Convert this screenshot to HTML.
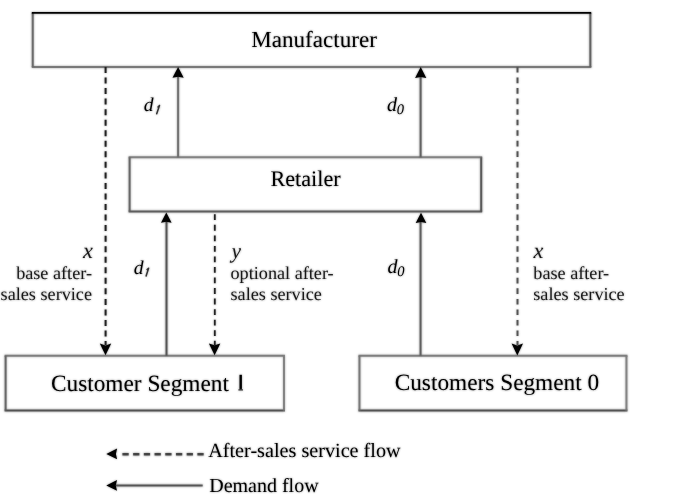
<!DOCTYPE html>
<html><head><meta charset="utf-8">
<style>
html,body{margin:0;padding:0;background:#fff;}
body{width:673px;height:500px;overflow:hidden;}
svg{display:block;}
text{font-family:"Liberation Serif",serif;text-rendering:geometricPrecision;}
.it{font-style:italic;}
</style></head><body>
<svg width="673" height="500" viewBox="0 0 673 500">
<defs><filter id="bl" filterUnits="userSpaceOnUse" x="-10" y="-10" width="693" height="520"><feGaussianBlur stdDeviation="0.8"/></filter></defs>
<rect width="673" height="500" fill="#fff"/>
<g opacity="0.6"><g id="L">
<g fill="none">
<line x1="31.75" y1="67.0" x2="591.35" y2="67.0" stroke="#454545" stroke-width="2.0"/>
<line x1="32.75" y1="12.90" x2="32.75" y2="67.00" stroke="#343434" stroke-width="2.0"/>
<line x1="590.35" y1="12.90" x2="590.35" y2="67.00" stroke="#252525" stroke-width="2.0"/>
<line x1="128.60" y1="157.35" x2="482.20" y2="157.35" stroke="#535353" stroke-width="2.0"/>
<line x1="128.60" y1="211.55" x2="482.20" y2="211.55" stroke="#222222" stroke-width="2.0"/>
<line x1="129.6" y1="157.35" x2="129.6" y2="211.55" stroke="#2d2d2d" stroke-width="2.0"/>
<line x1="481.2" y1="157.35" x2="481.2" y2="211.55" stroke="#1d1d1d" stroke-width="2.0"/>
<line x1="4.60" y1="355.8" x2="284.98" y2="355.8" stroke="#4e4e4e" stroke-width="2.0"/>
<line x1="4.60" y1="410.5" x2="284.98" y2="410.5" stroke="#0f0f0f" stroke-width="2.0"/>
<line x1="5.6" y1="355.80" x2="5.6" y2="410.50" stroke="#2d2d2d" stroke-width="2.0"/>
<line x1="283.98" y1="355.80" x2="283.98" y2="410.50" stroke="#555555" stroke-width="2.0"/>
<line x1="358.45" y1="355.8" x2="627.45" y2="355.8" stroke="#4e4e4e" stroke-width="2.0"/>
<line x1="358.45" y1="410.5" x2="627.45" y2="410.5" stroke="#0f0f0f" stroke-width="2.0"/>
<line x1="359.45" y1="355.80" x2="359.45" y2="410.50" stroke="#474747" stroke-width="2.0"/>
<line x1="626.45" y1="355.80" x2="626.45" y2="410.50" stroke="#535353" stroke-width="2.0"/>
<line x1="178.1" y1="157.35" x2="178.1" y2="76.00" stroke="#3c3c3c" stroke-width="2.0"/>
<line x1="420.6" y1="157.35" x2="420.6" y2="76.00" stroke="#242424" stroke-width="2.0"/>
<line x1="166.5" y1="355.80" x2="166.5" y2="221.00" stroke="#141414" stroke-width="2.0"/>
<line x1="420.55" y1="355.80" x2="420.55" y2="221.00" stroke="#242424" stroke-width="2.0"/>
<line x1="116.00" y1="485.55" x2="202.70" y2="485.55" stroke="#151515" stroke-width="2.0"/>
</g>
<line x1="122.4" y1="454.2" x2="204" y2="454.2" stroke="#000" stroke-width="2.4" stroke-dasharray="6.3 4.41"/>
</g></g>
<use href="#L" filter="url(#bl)" opacity="0.5"/>
<g opacity="0.99"><g id="T">
<line x1="31.8" y1="12.9" x2="591.2" y2="12.9" stroke="#000" stroke-width="1.8"/>
<g stroke-width="2">
<line x1="105.6" y1="67" x2="105.6" y2="345" stroke="#222" stroke-width="2" stroke-dasharray="6 4.54"/>
<line x1="517.5" y1="67" x2="517.5" y2="345" stroke="#555" stroke-dasharray="5.6 4.94"/>
<line x1="214.8" y1="214.3" x2="214.8" y2="345" stroke="#222" stroke-width="1.8" stroke-dasharray="5.8 4.74"/>
</g>
<g fill="#000">
<polygon points="178.1,66.9 183.7,77.8 178.1,76.8 172.5,77.8"/>
<polygon points="420.7,67.0 426.3,78.0 420.7,77.0 415.09999999999997,78.0"/>
<polygon points="166.3,212.6 171.60000000000002,222.8 166.3,221.8 161.0,222.8"/>
<polygon points="421.0,212.8 426.3,223.0 421.0,222.0 415.7,223.0"/>
<polygon points="105.5,355.2 111.2,343.6 105.5,345.40000000000003 99.8,343.6"/>
<polygon points="214.6,355.2 220.29999999999998,343.4 214.6,345.2 208.9,343.4"/>
<polygon points="517.3,355.4 523.0,343.6 517.3,345.40000000000003 511.59999999999997,343.6"/>
<polygon points="106.3,453.9 117.1,448.59999999999997 115.89999999999999,453.9 117.1,459.2"/>
<polygon points="106.3,485.4 117.0,480.0 115.8,485.4 117.0,490.79999999999995"/>
</g>

<text x="251.2" y="46.5" font-size="23.1">Manufacturer</text>
<text x="270.4" y="186.2" font-size="22.2">Retailer</text>
<text x="51" y="390.5" font-size="23.3">Customer Segment</text>
<path d="M240.7,374.8 L240.7,389.6" stroke="#000" stroke-width="2.4" fill="none"/><path d="M238.4,389.9 L243.0,389.9" stroke="#333" stroke-width="1.2" fill="none"/>
<text x="394.7" y="390.2" font-size="23.3">Customers Segment 0</text>
<text x="143.8" y="110.9" font-size="19.6" class="it">d</text>
<path d="M156.7,113.8 L159.5,105.6 M159.5,105.6 L158.0,107.0" stroke="#333" stroke-width="1.5" fill="none" stroke-linecap="round"/>
<text x="387" y="111" font-size="20" class="it">d<tspan font-size="14.5" dx="-0.3" dy="3.2">0</tspan></text>
<text x="133.8" y="273.5" font-size="19.6" class="it">d</text>
<path d="M146.1,276.0 L148.6,268.2 M148.6,268.2 L147.1,269.6" stroke="#333" stroke-width="1.5" fill="none" stroke-linecap="round"/>
<text x="387.5" y="272.7" font-size="20" class="it">d<tspan font-size="14.5" dx="-0.3" dy="3.2">0</tspan></text>
<g font-size="18.2" style="fill:#181818">
<text x="92.8" y="257.6" font-size="22.3" class="it" text-anchor="end">x</text>
<text x="92" y="278.6" text-anchor="end">base after-</text>
<text x="92" y="299.5" text-anchor="end">sales service</text>
<text x="231.6" y="257.6" font-size="21.5" class="it">y</text>
<text x="230.5" y="278.8">optional after-</text>
<text x="230.5" y="299.6">sales service</text>
<text x="533.6" y="257.6" font-size="22.3" class="it">x</text>
<text x="533.3" y="278.8">base after-</text>
<text x="533.3" y="299.5">sales service</text>
</g>
<text x="208.2" y="456.9" font-size="20.2">After-sales service flow</text>
<text x="209.2" y="491.7" font-size="20">Demand flow</text>

</g></g>
<use href="#T" filter="url(#bl)" opacity="0.45"/>
</svg>
</body></html>
